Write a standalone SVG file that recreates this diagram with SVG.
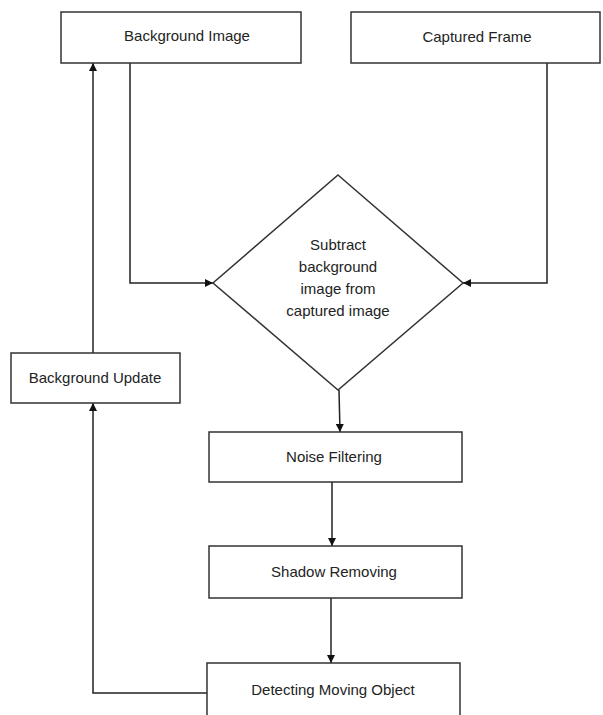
<svg xmlns="http://www.w3.org/2000/svg" width="603" height="715" viewBox="0 0 603 715">
<style>
.box{fill:#fff;stroke:#333;stroke-width:1.5}
.lbl{font-family:"Liberation Sans",Arial,sans-serif;font-size:15px;fill:#232323;text-anchor:middle}
.edge{fill:none;stroke:#222;stroke-width:1.5}
</style>
<defs>
<marker id="arr" viewBox="0 0 10 10" refX="10" refY="5" markerWidth="8" markerHeight="8" markerUnits="userSpaceOnUse" orient="auto">
<path d="M0,0 L10,5 L0,10 z" fill="#111"/>
</marker>
</defs>
<rect width="603" height="715" fill="#fff"/>
<g id="connectors">
<path class="edge" d="M130,63 V283 H213" marker-end="url(#arr)"/>
<path class="edge" d="M547,63 V283 H463" marker-end="url(#arr)"/>
<path class="edge" d="M339,390 L340,432" marker-end="url(#arr)"/>
<path class="edge" d="M332,482 V546" marker-end="url(#arr)"/>
<path class="edge" d="M331,598 V663" marker-end="url(#arr)"/>
<path class="edge" d="M207,693 H93 V403" marker-end="url(#arr)"/>
<path class="edge" d="M93,353 V63" marker-end="url(#arr)"/>
</g>
<g id="bg-image">
<rect class="box" x="61" y="12" width="240" height="51"/>
<text class="lbl" x="187" y="41">Background Image</text>
</g>
<g id="captured-frame">
<rect class="box" x="351" y="12" width="249" height="51"/>
<text class="lbl" x="477" y="42">Captured Frame</text>
</g>
<g id="subtract">
<path class="box" d="M338,175 L463,283 L338,390 L213,283 Z"/>
<text class="lbl" x="338" y="250">Subtract</text>
<text class="lbl" x="338" y="272">background</text>
<text class="lbl" x="338" y="294">image from</text>
<text class="lbl" x="338" y="316">captured image</text>
</g>
<g id="bg-update">
<rect class="box" x="11" y="353" width="169" height="50"/>
<text class="lbl" x="95" y="383">Background Update</text>
</g>
<g id="noise">
<rect class="box" x="209" y="432" width="253" height="50"/>
<text class="lbl" x="334" y="462">Noise Filtering</text>
</g>
<g id="shadow">
<rect class="box" x="209" y="546" width="253" height="52"/>
<text class="lbl" x="334" y="577">Shadow Removing</text>
</g>
<g id="detecting">
<rect class="box" x="207" y="663" width="253" height="60"/>
<text class="lbl" x="333" y="695">Detecting Moving Object</text>
</g>
</svg>
